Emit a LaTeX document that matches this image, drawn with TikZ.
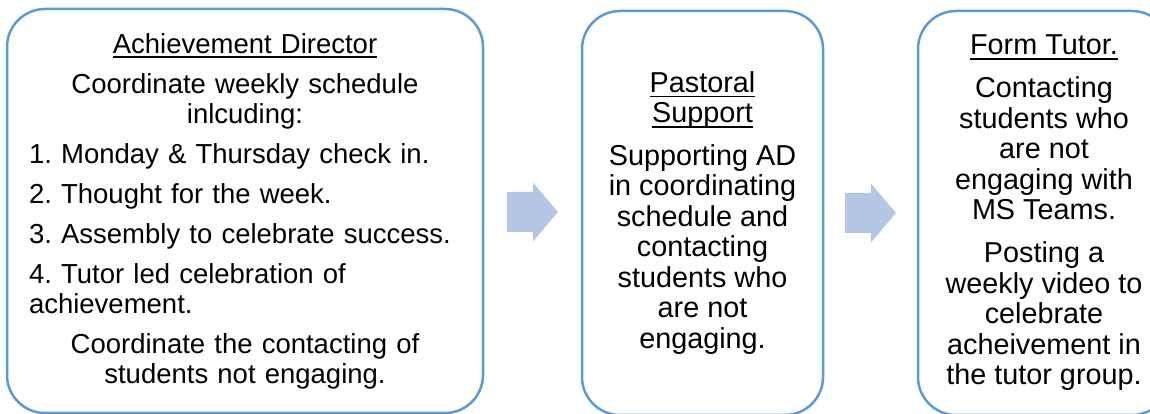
\documentclass[tikz,border=0pt]{standalone}
\usepackage{fontspec}
\setmainfont{Liberation Sans}
\usetikzlibrary{calc}
\frenchspacing

\definecolor{boxblue}{RGB}{91,155,213}
\definecolor{arrowblue}{RGB}{180,199,231}

\newsavebox{\rolebox}
\newcommand{\rolehead}[1]{\sbox{\rolebox}{#1}\rlap{\rule[-5pt]{\wd\rolebox}{1.8pt}}\usebox{\rolebox}}

\begin{document}
\begin{tikzpicture}
     [
     x=1pt, y=1pt,
     every node/.style={font=\fontsize{28.8}{30.5}\selectfont},
     role/.style={draw=boxblue, line width=2.5pt, rounded corners=38pt,
       minimum height=404pt, inner sep=0pt},
     flow/.style={fill=arrowblue}
     ]
     \path[use as bounding box, clip] (0,0) rectangle (1150,414);
     \node[role, minimum width=476pt, text width=432pt,
       font=\fontsize{27.5}{30}\selectfont] (director) at (245,203) {%
       \centering
       \rolehead{Achievement Director}\par\vspace{10pt}
       Coordinate weekly schedule\\inlcuding:\par\vspace{10pt}
       \raggedright
       1. Monday \& Thursday check in.\par\vspace{10pt}
       2. Thought for the week.\par\vspace{10pt}
       3. Assembly to celebrate success.\par\vspace{10pt}
       4. Tutor led celebration of\\achievement.\par\vspace{10pt}
       \centering
       Coordinate the contacting of\\students not engaging.\par};
     \node[role, minimum width=241pt, align=center] (pastoral) at (702.5,201)
       {\rolehead{Pastoral}\\\rolehead{Support}\\[12pt]
        Supporting AD\\in coordinating\\schedule and\\contacting\\students who\\are not\\engaging.};
     \node[role, minimum width=252pt, align=center] (tutor) at (1044,201)
       {\rolehead{Form Tutor.}\\[12.5pt]
        Contacting\\students who\\are not\\engaging with\\MS Teams.\\[12.5pt]
        Posting a\\weekly video to\\celebrate\\acheivement in\\the tutor group.};
     % block arrows between the boxes
     \coordinate (arrowA) at ($(director.east)!0.5!(pastoral.west)$);
     \coordinate (arrowB) at ($(pastoral.east)!0.5!(tutor.west)$);
     \foreach \a in {arrowA,arrowB}
       \fill[flow] (\a) ++(-25.5,-20) -- ++(26,0) -- ++(0,-9.5) -- ++(25,29.5)
         -- ++(-25,29.5) -- ++(0,-9.5) -- ++(-26,0) -- cycle;
\end{tikzpicture}
\end{document}
